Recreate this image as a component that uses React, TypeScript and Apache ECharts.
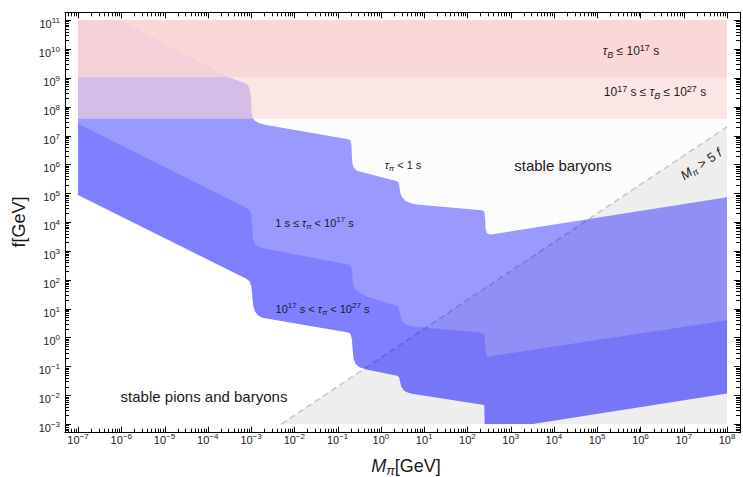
import React, { useEffect, useRef } from 'react';
import * as echarts from 'echarts';

// ---------- axis ranges (log10 of the values) ----------
const xRange = [-7.3, 8.3];
const yRange = [-3.3, 11.27];
const shadedM = [-7, 8];
const shadedF = [-3, 11];
const xTickExponents = [-7, -6, -5, -4, -3, -2, -1, 0, 1, 2, 3, 4, 5, 6, 7, 8];
const yTickExponents = [-3, -2, -1, 0, 1, 2, 3, 4, 5, 6, 7, 8, 9, 10, 11];

// ---------- boundaries, [log10 M_pi, log10 f] ----------
const tau1sBoundary: number[][] = [
  [-6.04, 11.0], [-3.44, 8.98], [-3.18, 8.84], [-3.08, 8.76], [-3.03, 8.6], [-3.0, 8.3],
  [-2.99, 7.85], [-2.97, 7.64], [-2.92, 7.52], [-2.82, 7.43], [-2.68, 7.37],
  [-0.75, 6.87], [-0.7, 6.83], [-0.68, 6.66], [-0.67, 6.3], [-0.66, 6.06], [-0.63, 5.89],
  [-0.56, 5.79], [-0.47, 5.74], [0.36, 5.42], [0.41, 5.37], [0.43, 5.22], [0.45, 5.02],
  [0.49, 4.87], [0.57, 4.73], [0.7, 4.65], [0.83, 4.61], [2.34, 4.41], [2.39, 4.36],
  [2.41, 4.1], [2.42, 3.78], [2.45, 3.62], [2.52, 3.57], [2.62, 3.59], [8.0, 4.86],
];
const tau17Boundary: number[][] = [
  [-7.0, 7.42], [-3.14, 4.52], [-3.04, 4.42], [-3.0, 4.25], [-2.98, 3.95], [-2.96, 3.5],
  [-2.93, 3.3], [-2.87, 3.18], [-2.78, 3.12], [-2.72, 3.09], [-0.75, 2.53], [-0.7, 2.48],
  [-0.67, 2.32], [-0.65, 2.0], [-0.63, 1.8], [-0.58, 1.65], [-0.5, 1.56], [-0.31, 1.41],
  [0.36, 1.1], [0.41, 1.04], [0.43, 0.9], [0.46, 0.7], [0.5, 0.56], [0.58, 0.45],
  [0.7, 0.4], [0.83, 0.37], [2.34, 0.16], [2.39, 0.1], [2.41, -0.2], [2.42, -0.5],
  [2.45, -0.64], [2.52, -0.67], [2.66, -0.62], [8.0, 0.6],
];
const tau27Boundary: number[][] = [
  [-7.0, 4.94], [-3.12, 2.04], [-3.03, 1.94], [-2.99, 1.75], [-2.97, 1.4], [-2.95, 1.1],
  [-2.91, 0.9], [-2.84, 0.77], [-2.74, 0.68], [-0.75, 0.17], [-0.7, 0.12], [-0.67, -0.05],
  [-0.65, -0.45], [-0.63, -0.75], [-0.58, -0.93], [-0.48, -1.04], [-0.31, -1.12],
  [0.38, -1.33], [0.42, -1.38], [0.44, -1.5], [0.47, -1.7], [0.53, -1.84], [0.62, -1.91],
  [0.72, -1.95], [2.39, -2.34], [2.4, -3.0], [3.51, -3.0], [8.0, -1.94],
];
const baryonBandShort = [9, 11]; // tau_B <= 1e17 s
const baryonBandLong = [7.58, 9]; // 1e17 s <= tau_B <= 1e27 s
const massRatioLine: number[][] = [[-2.301, -3], [8, 7.301]]; // M = 5 f

// ---------- derived polygons ----------
const rect = (m: number[], f: number[]) => [[m[0], f[0]], [m[1], f[0]], [m[1], f[1]], [m[0], f[1]]];
const rev = (a: number[][]) => a.slice().reverse();
const regionFast = [...tau1sBoundary, [shadedM[1], shadedF[1]]];
const regionGray = [massRatioLine[0], [shadedM[1], shadedF[0]], massRatioLine[1]];
const regionDecay = [[shadedM[0], shadedF[1]], ...tau1sBoundary, ...rev(tau27Boundary)];
const regionLong = [...tau17Boundary, ...rev(tau27Boundary)];
const regionBShort = rect(shadedM, baryonBandShort);
const regionBLong = rect(shadedM, baryonBandLong);

const FONT = '"Liberation Sans", Arial, Helvetica, sans-serif';

function logTicks(exps: number[], lo: number, hi: number) {
  const out: number[][] = [];
  for (let n = exps[0] - 1; n <= exps[exps.length - 1] + 1; n++) {
    for (let k = 1; k <= 9; k++) {
      const v = n + Math.log10(k);
      if (v >= lo + 1e-6 && v <= hi - 1e-6) out.push([v, k === 1 ? 1 : 0]);
    }
  }
  return out;
}

function polygonSeries(name: string, pts: number[][], fill: string, z: number) {
  return {
    type: 'custom',
    name,
    z,
    silent: true,
    data: [[0, 0]],
    renderItem: (_p: any, api: any) => ({
      type: 'polygon',
      shape: { points: pts.map((p) => api.coord(p)) },
      style: { fill },
    }),
  };
}

const fmtExp = (n: number) => (n < 0 ? '\u2212' + -n : String(n));

function richLabel(s: number) {
  const sub = Math.round(s * 0.72);
  return {
    n: { fontSize: s, lineHeight: s + 4, fontFamily: FONT, fill: '#1a1a1a' },
    i: { fontSize: s, lineHeight: s + 4, fontFamily: FONT, fontStyle: 'italic', fill: '#1a1a1a' },
    sub: { fontSize: sub, lineHeight: sub, verticalAlign: 'bottom', fontFamily: FONT, fontStyle: 'italic', fill: '#1a1a1a' },
    sup: { fontSize: sub, lineHeight: sub, verticalAlign: 'top', fontFamily: FONT, fill: '#1a1a1a' },
  };
}

function textEl(text: string, x: number, y: number, size: number, rotation = 0) {
  return {
    type: 'text',
    x,
    y,
    rotation,
    z: 100,
    silent: true,
    style: {
      text,
      x: 0,
      y: 0,
      align: 'center',
      verticalAlign: 'middle',
      fontSize: size,
      fontFamily: FONT,
      fill: '#1a1a1a',
      rich: richLabel(size),
    },
  };
}

const S = '\u00a0';

export default function App() {
  const ref = useRef<HTMLDivElement>(null);
  useEffect(() => {
    const chart = echarts.init(ref.current!, null, { renderer: 'svg' });
    const xt = logTicks(xTickExponents, xRange[0], xRange[1]);
    const yt = logTicks(yTickExponents, yRange[0], yRange[1]);
    const tickData: number[][] = [];
    xt.forEach((t) => { tickData.push([t[0], 0, t[1]]); tickData.push([t[0], 2, t[1]]); });
    yt.forEach((t) => { tickData.push([t[0], 1, t[1]]); tickData.push([t[0], 3, t[1]]); });

    const isInt = (v: number) => Math.abs(v - Math.round(v)) < 1e-6;
    const labelRich = {
      b: { fontSize: 11, lineHeight: 13, verticalAlign: 'bottom', color: '#222', fontFamily: FONT },
      s: { fontSize: 8, lineHeight: 7, verticalAlign: 'top', color: '#222', fontFamily: FONT },
    };
    const fmt = (v: number) => (isInt(v) ? `{b|10}{s|${fmtExp(Math.round(v))}}` : '');
    const axisLine = { show: true, onZero: false, lineStyle: { color: '#000', width: 1 } };

    const option: any = {
      animation: false,
      grid: { left: 65, top: 12.3, width: 681, height: 420.4, containLabel: false },
      xAxis: [
        {
          type: 'value', min: xRange[0], max: xRange[1], interval: 0.1, position: 'bottom',
          axisLine, axisTick: { show: false }, splitLine: { show: false },
          axisLabel: { formatter: fmt, rich: labelRich, margin: 0, showMinLabel: true, showMaxLabel: true },
        },
        {
          type: 'value', min: xRange[0], max: xRange[1], position: 'top',
          axisLine, axisTick: { show: false }, splitLine: { show: false }, axisLabel: { show: false },
        },
      ],
      yAxis: [
        {
          type: 'value', min: yRange[0], max: yRange[1], interval: 0.1, position: 'left',
          axisLine, axisTick: { show: false }, splitLine: { show: false },
          axisLabel: { formatter: fmt, rich: labelRich, margin: 5, padding: [6, 0, 0, 0] },
        },
        {
          type: 'value', min: yRange[0], max: yRange[1], position: 'right',
          axisLine, axisTick: { show: false }, splitLine: { show: false }, axisLabel: { show: false },
        },
      ],
      series: [
        polygonSeries('tau_pi < 1 s', regionFast, 'rgba(0,0,0,0.01)', 1),
        polygonSeries('M > 5 f', regionGray, '#eeeeee', 2),
        {
          type: 'line', name: 'M = 5 f', z: 3, silent: true, data: massRatioLine,
          symbol: 'none', showSymbol: false,
          lineStyle: { color: '#c6c6c6', width: 1.5, type: [6, 4] },
        },
        polygonSeries('1 s < tau_pi < 1e27 s', regionDecay, 'rgba(0,0,255,0.4)', 4),
        polygonSeries('1e17 s < tau_pi < 1e27 s', regionLong, 'rgba(0,0,255,0.1667)', 5),
        polygonSeries('1e17 s < tau_B < 1e27 s', regionBLong, 'rgba(251,213,213,0.6)', 6),
        polygonSeries('tau_B < 1e17 s', regionBShort, 'rgba(251,213,213,0.93)', 7),
        {
          type: 'custom', name: 'ticks', z: 10, silent: true, data: tickData,
          renderItem: (_p: any, api: any) => {
            const v = api.value(0);
            const side = api.value(1);
            const L = api.value(2) ? 6 : 4;
            let x1 = 0, y1 = 0, x2 = 0, y2 = 0;
            if (side === 0 || side === 2) {
              const p = api.coord([v, side === 0 ? yRange[0] : yRange[1]]);
              x1 = x2 = Math.round(p[0]) + 0.5;
              y1 = p[1];
              y2 = side === 0 ? p[1] - L : p[1] + L;
            } else {
              const p = api.coord([side === 1 ? xRange[0] : xRange[1], v]);
              y1 = y2 = Math.round(p[1]) + 0.5;
              x1 = p[0];
              x2 = side === 1 ? p[0] + L : p[0] - L;
            }
            return { type: 'line', shape: { x1, y1, x2, y2 }, style: { stroke: '#000', lineWidth: 1 } };
          },
        },
      ],
      graphic: [
        textEl(`{i|τ}{sub|B}{n|${S}≤${S}10}{sup|17}{n|${S}s}`, 631, 51, 12),
        textEl(`{n|10}{sup|17}{n|${S}s${S}≤${S}}{i|τ}{sub|B}{n|${S}≤${S}10}{sup|27}{n|${S}s}`, 655, 92, 12),
        textEl('{n|stable baryons}', 563, 165, 15),
        textEl(`{i|τ}{sub|π}{n|${S}<${S}1${S}s}`, 403, 165, 11),
        textEl(`{n|1${S}s${S}≤${S}}{i|τ}{sub|π}{n|${S}<${S}10}{sup|17}{n|${S}s}`, 314.5, 223, 11),
        textEl(`{n|10}{sup|17}{n|${S}s${S}<${S}}{i|τ}{sub|π}{n|${S}<${S}10}{sup|27}{n|${S}s}`, 322.5, 309, 11),
        textEl('{n|stable pions and baryons}', 204, 396, 15),
        textEl(`{i|M}{sub|π}{n|${S}>${S}5${S}}{i|f}`, 701, 164, 13, 0.581),
        textEl('{n|f[GeV]}', 19, 222, 18, Math.PI / 2),
        textEl('{i|M}{sub|π}{n|[GeV]}', 406, 466, 18),
      ],
    };
    chart.setOption(option);
    return () => chart.dispose();
  }, []);
  return (
    <div
      ref={ref}
      style={{ position: 'fixed', left: 0, top: 0, width: 743, height: 477, background: '#fff' }}
    />
  );
}
